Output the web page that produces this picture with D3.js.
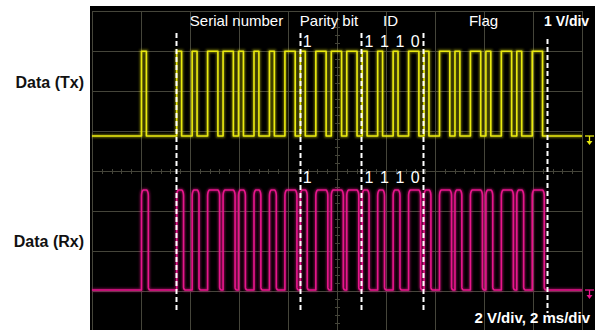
<!DOCTYPE html>
<html>
<head>
<meta charset="utf-8">
<script src="https://cdn.jsdelivr.net/npm/d3@7"></script>
<style>
    body { margin: 0; background: #fff; }
    svg { display: block; font-family: Arial, "Liberation Sans", sans-serif; }
</style>
</head>
<body>
<svg id="scope" width="595" height="330"></svg>
<script>
// timing, ms (2 ms/div)
const bitPeriod = 0.631;
const firstEdge = 3.457;
const wakeEdge = 2.02;
const wakeBit = 1;
const bits = [ 1, 1, 0, 0, 1, 1, 1, 0,  1, 0, 0, 0,  1, 1, 1, 0,  1, 0, 1, 0, 1, 0, 1, 0 ];

// high time for a '1' / '0', ms
const txHigh = { 1: 0.20, 0: 0.42 };
const rxHigh = { 1: 0.28, 0: 0.49 };

// levels, V
const txLevel = 2.12;
const rxLevel = 5.0;

const sections = [ 'Serial number', 'Parity bit', 'ID', 'Flag' ];
const sectionBounds = [ 0, 8, 12, 16, 24 ];
const labelledBits = [ 8, 12, 13, 14, 15 ];

const svg = d3.select( '#scope' );

// screen: 10 x 8 divisions
const gx = d3.scaleLinear().domain( [ 0, 10 ] ).range( [ 92, 582 ] ),
    gy = d3.scaleLinear().domain( [ 0, 8 ] ).range( [ 11, 331 ] );

const x = d3.scaleLinear().domain( [ 0, 20 ] ).range( [ gx( 0 ), gx( 10 ) ] ),
    yTx = d3.scaleLinear().domain( [ 0, 1 ] ).range( [ 136, 96 ] ),   // 1 V/div
    yRx = d3.scaleLinear().domain( [ 0, 2 ] ).range( [ 290, 250 ] );  // 2 V/div

svg.append( 'rect' )
    .attr( 'x', 90 ).attr( 'y', 6 )
    .attr( 'width', 505 ).attr( 'height', 324 )
    .attr( 'fill', '#000' );

const defs = svg.append( 'defs' );
defs.append( 'filter' ).attr( 'id', 'glow' )
    .append( 'feGaussianBlur' ).attr( 'stdDeviation', 1.1 );

// graticule
const grid = svg.append( 'g' ).attr( 'stroke', '#45453a' ).attr( 'stroke-width', 1 );
d3.range( 0, 11 ).forEach( i => {
    grid.append( 'line' )
        .attr( 'x1', Math.round( gx( i ) ) + 0.5 ).attr( 'x2', Math.round( gx( i ) ) + 0.5 )
        .attr( 'y1', gy( 0 ) ).attr( 'y2', gy( 8 ) );
} );
d3.range( 0, 9 ).forEach( i => {
    grid.append( 'line' )
        .attr( 'x1', gx( 0 ) ).attr( 'x2', gx( 10 ) )
        .attr( 'y1', Math.round( gy( i ) ) + 0.5 ).attr( 'y2', Math.round( gy( i ) ) + 0.5 );
} );
d3.range( 0, 10.01, 0.2 ).forEach( d => {
    let xx = Math.round( gx( d ) ) + 0.5;
    grid.append( 'line' )
        .attr( 'x1', xx ).attr( 'x2', xx )
        .attr( 'y1', gy( 4 ) - 2 ).attr( 'y2', gy( 4 ) + 3 );
} );
d3.range( 0, 8.01, 0.2 ).forEach( d => {
    let yy = Math.round( gy( d ) ) + 0.5;
    grid.append( 'line' )
        .attr( 'x1', gx( 5 ) - 2 ).attr( 'x2', gx( 5 ) + 3 )
        .attr( 'y1', yy ).attr( 'y2', yy );
} );

const bitStart = i => firstEdge + i * bitPeriod;

const pulses = highTime => [ { t: wakeEdge, w: highTime[ wakeBit ] } ]
    .concat( bits.map( ( b, i ) => ( { t: bitStart( i ), w: highTime[ b ] } ) ) );

// Tx: sharp edges
const txPts = [ [ 0, 0 ] ];
pulses( txHigh ).forEach( p => {
    txPts.push( [ p.t, 0 ], [ p.t, txLevel ], [ p.t + p.w, txLevel ], [ p.t + p.w, 0 ] );
} );
txPts.push( [ 20, 0 ] );

// Rx: rounded corners from the slower line (quarter arcs, r in ms / V)
const arc = ( cx, cy, rx, ry, a0, a1 ) => d3.range( 0, 1.001, 0.2 ).map( k => {
    let a = a0 + ( a1 - a0 ) * k;
    return [ cx + rx * Math.cos( a ), cy + ry * Math.sin( a ) ];
} );
const rxPts = [ [ 0, 0 ] ];
pulses( rxHigh ).forEach( p => {
    let V = rxLevel, e = p.t + p.w, r = 0.085, rv = 0.3, r2 = 0.07, rv2 = 0.15;
    rxPts.push( [ p.t, 0 ] );
    rxPts.push( ...arc( p.t + r, V - rv, r, rv, Math.PI, Math.PI / 2 ) );
    rxPts.push( ...arc( e - r, V - rv, r, rv, Math.PI / 2, 0 ) );
    rxPts.push( ...arc( e + r2, rv2, r2, rv2, Math.PI, Math.PI * 1.5 ) );
} );
rxPts.push( [ 20, 0 ] );

const txLine = d3.line().x( d => x( d[ 0 ] ) ).y( d => yTx( d[ 1 ] ) );
const rxLine = d3.line().x( d => x( d[ 0 ] ) ).y( d => yRx( d[ 1 ] ) );

const traces = [
    { path: txLine( txPts ), color: '#eaea10' },
    { path: rxLine( rxPts ), color: '#e8168c' }
];
traces.forEach( tr => {
    svg.append( 'path' ).attr( 'd', tr.path )
        .attr( 'fill', 'none' ).attr( 'stroke', tr.color )
        .attr( 'stroke-width', 3.5 ).attr( 'opacity', 0.45 )
        .attr( 'filter', 'url(#glow)' );
    svg.append( 'path' ).attr( 'd', tr.path )
        .attr( 'fill', 'none' ).attr( 'stroke', tr.color )
        .attr( 'stroke-width', 1.6 ).attr( 'stroke-linejoin', 'round' );
} );

// ground markers
const gnd = ( y0, color ) => {
    let g = svg.append( 'g' ).attr( 'stroke', color ).attr( 'fill', color ).attr( 'stroke-width', 1.3 );
    g.append( 'line' ).attr( 'x1', 585 ).attr( 'x2', 594 ).attr( 'y1', y0 ).attr( 'y2', y0 );
    g.append( 'line' ).attr( 'x1', 589.5 ).attr( 'x2', 589.5 ).attr( 'y1', y0 ).attr( 'y2', y0 + 5 );
    g.append( 'path' ).attr( 'stroke', 'none' )
        .attr( 'd', `M586.5,${ y0 + 5 }L592.5,${ y0 + 5 }L589.5,${ y0 + 9 }Z` );
};
gnd( yTx( 0 ), '#eaea10' );
gnd( yRx( 0 ), '#e8168c' );

// frame markers
const markX = i => Math.round( x( bitStart( i ) - 0.03 ) ) + 0.5;
sectionBounds.forEach( ( b, i ) => {
    svg.append( 'line' )
        .attr( 'x1', markX( b ) ).attr( 'x2', markX( b ) )
        .attr( 'y1', i == sectionBounds.length - 1 ? 39 : 33 ).attr( 'y2', 313 )
        .attr( 'stroke', '#fff' ).attr( 'stroke-width', 2 )
        .attr( 'stroke-dasharray', '5,3' );
} );

const txt = svg.append( 'g' ).attr( 'fill', '#fff' );
sections.forEach( ( s, i ) => {
    txt.append( 'text' )
        .attr( 'x', ( markX( sectionBounds[ i ] ) + markX( sectionBounds[ i + 1 ] ) ) / 2 - 2 )
        .attr( 'y', 26 )
        .attr( 'text-anchor', 'middle' )
        .attr( 'font-size', 15 )
        .text( s );
} );

[ 47, 183 ].forEach( by => {
    labelledBits.forEach( i => {
        txt.append( 'text' )
            .attr( 'x', x( bitStart( i ) + bitPeriod / 2 ) - 1 )
            .attr( 'y', by )
            .attr( 'text-anchor', 'middle' )
            .attr( 'font-size', 16 )
            .text( bits[ i ] );
    } );
} );

txt.append( 'text' ).attr( 'x', 544 ).attr( 'y', 26 )
    .attr( 'font-size', 14 ).attr( 'font-weight', 'bold' ).text( '1 V/div' );
txt.append( 'text' ).attr( 'x', 590 ).attr( 'y', 323 ).attr( 'text-anchor', 'end' )
    .attr( 'font-size', 15 ).attr( 'font-weight', 'bold' ).text( '2 V/div, 2 ms/div' );

[ [ 'Data (Tx)', 88 ], [ 'Data (Rx)', 247 ] ].forEach( d => {
    svg.append( 'text' )
        .attr( 'x', 84 ).attr( 'y', d[ 1 ] )
        .attr( 'text-anchor', 'end' )
        .attr( 'font-size', 16 ).attr( 'font-weight', 'bold' )
        .attr( 'fill', '#111' )
        .text( d[ 0 ] );
} );
</script>
</body>
</html>
